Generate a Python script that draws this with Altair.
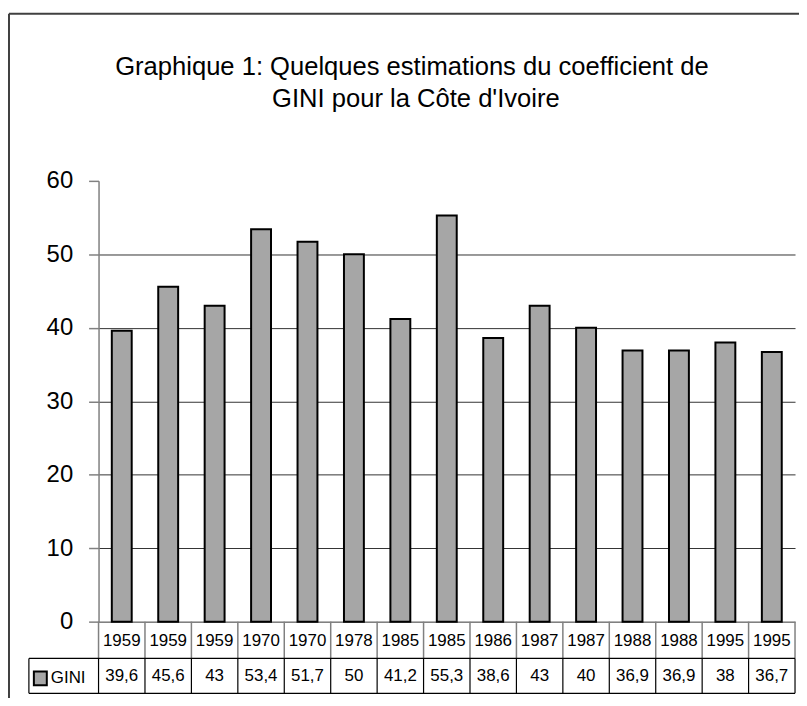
import altair as alt
import pandas as pd

# ---- data ----
years = ["1959", "1959", "1959", "1970", "1970", "1978", "1985", "1985",
         "1986", "1987", "1987", "1988", "1988", "1995", "1995"]
gini = [39.6, 45.6, 43, 53.4, 51.7, 50, 41.2, 55.3, 38.6, 43, 40, 36.9, 36.9, 38, 36.7]
series_name = ["GINI"]
title_lines = ["Graphique 1: Quelques estimations du coefficient de",
               "GINI pour la Côte d'Ivoire"]
y_ticks = [0, 10, 20, 30, 40, 50, 60]

labels = [f"{v:g}".replace(".", ",") for v in gini]
df = pd.DataFrame({"idx": list(range(len(years))), "year": years,
                   "gini": gini, "label": labels})
one = pd.DataFrame({"name": series_name})
titles = pd.DataFrame({"t": title_lines, "row": [0, 1]})

W, H = 700, 443
FONT = "Liberation Sans, Arial"
BAR_FILL = "#a6a6a6"
TFS = 17  # table font size

xscale = alt.Scale(paddingInner=0, paddingOuter=0)
xenc = alt.X("idx:O", axis=None, scale=xscale)
xedge = alt.X("idx:O", axis=None, scale=xscale, bandPosition=0)

bars = alt.Chart(df).mark_bar(size=20, color=BAR_FILL, stroke="black", strokeWidth=2).encode(
    x=xenc,
    y=alt.Y("gini:Q",
            scale=alt.Scale(domain=[0, 60], nice=False),
            axis=alt.Axis(values=y_ticks, title=None, grid=True,
                          gridColor="#333333", gridWidth=1,
                          gridOpacity={"condition": {"test": "datum.value >= 60", "value": 0}, "value": 1},
                          domainColor="#808080", domainWidth=1.5,
                          tickColor="#808080", tickWidth=1.5, tickSize=10,
                          labelFont=FONT, labelFontSize=24, labelColor="black",
                          labelPadding=16)),
)

year_text = alt.Chart(df).mark_text(font=FONT, fontSize=TFS, baseline="middle", color="black").encode(
    x=xenc, y=alt.value(H + 19), text="year:N")
val_text = alt.Chart(df).mark_text(font=FONT, fontSize=TFS, baseline="middle", color="black").encode(
    x=xenc, y=alt.value(H + 55), text="label:N")

vl_head = alt.Chart(df).mark_rule(color="#808080", strokeWidth=1.5).encode(
    x=xedge, y=alt.value(H), y2=alt.value(H + 37))
vl_val = alt.Chart(df).mark_rule(color="black", strokeWidth=1.2).encode(
    x=xedge, y=alt.value(H + 37), y2=alt.value(H + 72))

c = alt.Chart(one)
right_head = c.mark_rule(color="#808080", strokeWidth=1.5).encode(
    x=alt.value(W), y=alt.value(H), y2=alt.value(H + 37))
right_val = c.mark_rule(color="black", strokeWidth=1.2).encode(
    x=alt.value(W), y=alt.value(H + 37), y2=alt.value(H + 72))
h1 = c.mark_rule(color="black", strokeWidth=1.2).encode(
    x=alt.value(-70), x2=alt.value(W), y=alt.value(H + 37))
h2 = c.mark_rule(color="black", strokeWidth=1.2).encode(
    x=alt.value(-70), x2=alt.value(W), y=alt.value(H + 72))
left_leg = c.mark_rule(color="black", strokeWidth=1.2).encode(
    x=alt.value(-70), y=alt.value(H + 37), y2=alt.value(H + 72))
leg_sym = c.mark_rect(fill=BAR_FILL, stroke="black", strokeWidth=2).encode(
    x=alt.value(-65), x2=alt.value(-52), y=alt.value(H + 50), y2=alt.value(H + 64))
leg_txt = c.mark_text(font=FONT, fontSize=TFS, baseline="middle", align="left", color="black").encode(
    x=alt.value(-48), y=alt.value(H + 57), text="name:N")

frame_top = c.mark_rule(color="#404040", strokeWidth=2).encode(
    x=alt.value(-90), x2=alt.value(720), y=alt.value(-168))
frame_left = c.mark_rule(color="#404040", strokeWidth=2).encode(
    x=alt.value(-90), y=alt.value(-168), y2=alt.value(H + 100))

t1 = alt.Chart(titles).transform_filter("datum.row == 0").mark_text(
    font=FONT, fontSize=25.7, align="center", baseline="alphabetic", color="black").encode(
    x=alt.value(315), y=alt.value(-106), text="t:N")
t2 = alt.Chart(titles).transform_filter("datum.row == 1").mark_text(
    font=FONT, fontSize=25.7, align="center", baseline="alphabetic", color="black").encode(
    x=alt.value(319), y=alt.value(-74), text="t:N")

chart = alt.layer(
    bars, vl_head, vl_val, right_head, right_val, h1, h2, left_leg,
    year_text, val_text, leg_sym, leg_txt, frame_top, frame_left, t1, t2
).properties(
    width=W, height=H,
    autosize=alt.AutoSizeParams(type="none"),
    padding={"left": 91, "top": 172, "right": 4, "bottom": 75},
).configure_view(stroke=None)

chart.save("out.html", embed_options={"renderer": "svg", "actions": False})
